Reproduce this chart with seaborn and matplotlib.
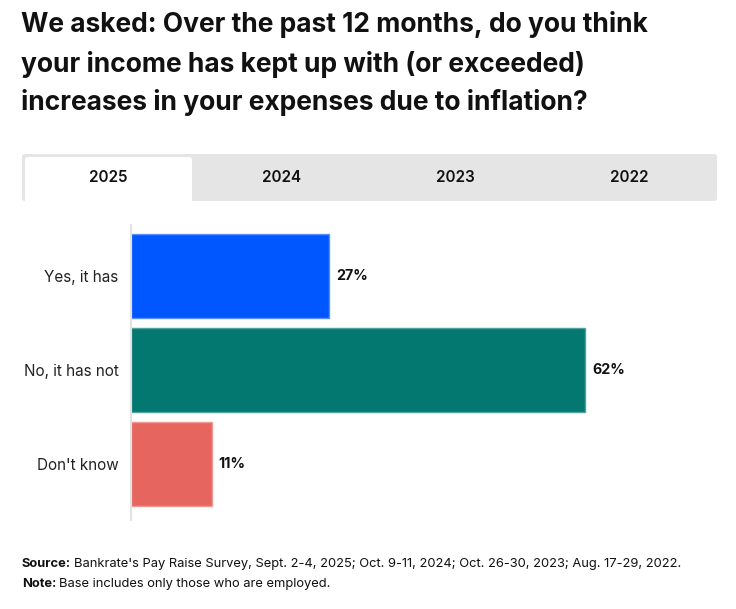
import matplotlib
matplotlib.use("Agg")
import matplotlib.pyplot as plt
import seaborn as sns
from matplotlib.patches import Rectangle, FancyBboxPatch

# data
categories = ["Yes, it has", "No, it has not", "Don't know"]
values = [27, 62, 11]
bar_colors = ["#0057FF", "#037870", "#E6665F"]
tabs = ["2025", "2024", "2023", "2022"]
title_lines = ["We asked: Over the past 12 months, do you think",
               "your income has kept up with (or exceeded)",
               "increases in your expenses due to inflation?"]
source = "Bankrate's Pay Raise Survey, Sept. 2-4, 2025; Oct. 9-11, 2024; Oct. 26-30, 2023; Aug. 17-29, 2022."
note = "Base includes only those who are employed."

sns.set_style("white")
plt.rcParams["font.family"] = ["Inter", "DejaVu Sans"]

W, H = 736, 609
fig = plt.figure(figsize=(W / 100, H / 100), dpi=100)

def fx(x):
    return x / W

def fy(y):
    return 1 - y / H

# title
for line, y in zip(title_lines, [25, 64, 103]):
    fig.text(fx(21), fy(y), line, ha="left", va="center", fontsize=19,
             fontweight="bold", color="#111111")

# tab strip
fig.patches.append(FancyBboxPatch((fx(22), fy(201)), fx(717) - fx(22), fy(154) - fy(201),
                                  boxstyle="round,pad=0,rounding_size=0.004",
                                  transform=fig.transFigure, facecolor="#E5E5E5",
                                  edgecolor="none", figure=fig))
fig.patches.append(FancyBboxPatch((fx(25), fy(201)), fx(192) - fx(25), fy(157) - fy(201),
                                  boxstyle="round,pad=0,rounding_size=0.004",
                                  transform=fig.transFigure, facecolor="white",
                                  edgecolor="none", figure=fig))
fig.patches.append(Rectangle((fx(25), fy(201)), fx(192) - fx(25), fy(190) - fy(201),
                             transform=fig.transFigure, facecolor="white",
                             edgecolor="none", figure=fig))
for lbl, cx in zip(tabs, [108, 282, 455, 629]):
    fig.text(fx(cx), fy(177), lbl, ha="center", va="center", fontsize=11,
             fontweight="semibold", color="#111111")

# bars
ax = fig.add_axes([fx(131), fy(520), fx(716) - fx(131), fy(225) - fy(520)])
sns.barplot(x=values, y=categories, hue=categories, palette=bar_colors, orient="h",
            width=0.894, legend=False, ax=ax, linewidth=1, saturation=1)
for p, c in zip(ax.patches, ["#5C8FFF", "#4FA39C", "#F09A95"]):
    p.set_edgecolor(c)
ax.set_xlim(0, 585 / 7.33)
ax.set_ylim(2.596, -0.543)
for i, v in enumerate(values):
    ax.text(v + 0.95, i, f"{v}%", ha="left", va="center", fontsize=10.3,
            fontweight="bold", color="#111111")
ax.set_xticks([])
ax.set_xlabel("")
ax.set_ylabel("")
ax.tick_params(axis="y", length=0, pad=9, labelsize=11, labelcolor="#222222")
for s in ["top", "right", "bottom"]:
    ax.spines[s].set_visible(False)
ax.spines["left"].set_color("#E2E2E2")
ax.spines["left"].set_linewidth(1.5)

# footer
renderer = fig.canvas.get_renderer()
for y, bold, rest in [(564, "Source:", source), (584, "Note:", note)]:
    t = fig.text(fx(22), fy(y), bold, ha="left", va="center", fontsize=9.3,
                 fontweight="bold", color="#111111")
    bb = t.get_window_extent(renderer)
    fig.text(fx(bb.x1 + 3), fy(y), rest, ha="left", va="center", fontsize=9.3,
             color="#111111")

fig.savefig("out.png", dpi=100)
